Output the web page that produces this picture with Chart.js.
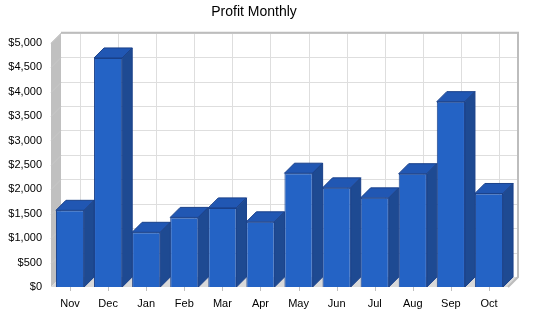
<!DOCTYPE html>
<html>
<head>
<meta charset="utf-8">
<script src="https://cdn.jsdelivr.net/npm/chart.js@4/dist/chart.umd.min.js"></script>
<style>
  html, body { margin: 0; padding: 0; background: #fff; }
  #wrap { width: 550px; height: 318px; }
</style>
</head>
<body>
<div id="wrap"><canvas id="profitChart"></canvas></div>
<script>
var months = ['Nov', 'Dec', 'Jan', 'Feb', 'Mar', 'Apr', 'May', 'Jun', 'Jul', 'Aug', 'Sep', 'Oct'];
var profit = [1570, 4690, 1120, 1425, 1620, 1335, 2330, 2030, 1825, 2320, 3795, 1915];
var yMax = 5000;
var yStep = 500;

// depth of the fake 3d box
var DX = 10, DY = 10;

var box3d = {
    id: 'box3d',
    beforeDatasetsDraw: function(chart) {
        var c = chart.ctx, a = chart.chartArea;
        var x = chart.scales.x, y = chart.scales.y;
        c.save();
        // left wall
        c.fillStyle = '#c0c0c0';
        c.beginPath();
        c.moveTo(a.left, a.top); c.lineTo(a.left + DX, a.top - DY);
        c.lineTo(a.left + DX, a.bottom - DY); c.lineTo(a.left, a.bottom);
        c.closePath(); c.fill();
        // floor
        c.fillStyle = '#d9d9d9';
        c.beginPath();
        c.moveTo(a.left, a.bottom); c.lineTo(a.left + DX, a.bottom - DY);
        c.lineTo(a.right + DX, a.bottom - DY); c.lineTo(a.right, a.bottom);
        c.closePath(); c.fill();
        // back wall grid
        c.lineWidth = 1;
        y.ticks.forEach(function(t) {
            var py = Math.round(y.getPixelForValue(t.value)) + 0.5;
            if (t.value === 0) return;
            c.strokeStyle = '#dedede';
            c.beginPath();
            c.moveTo(a.left + DX, py - DY); c.lineTo(a.right + DX, py - DY);
            c.stroke();
            c.strokeStyle = '#c8c8c8';
            c.beginPath();
            c.moveTo(a.left, py); c.lineTo(a.left + DX, py - DY);
            c.stroke();
        });
        months.forEach(function(m, i) {
            var px = Math.round(x.getPixelForValue(i)) + 0.5;
            c.strokeStyle = '#dedede';
            c.beginPath();
            c.moveTo(px + DX, a.top - DY); c.lineTo(px + DX, a.bottom - DY);
            c.stroke();
            // tick under axis
            c.strokeStyle = '#c0c0c0';
            c.beginPath();
            c.moveTo(px, a.bottom); c.lineTo(px, a.bottom + 4);
            c.stroke();
        });
        // back wall border
        c.strokeStyle = '#bdbdbd';
        c.lineWidth = 2;
        c.beginPath();
        c.moveTo(a.left + DX, a.top - DY); c.lineTo(a.right + DX, a.top - DY);
        c.lineTo(a.right + DX, a.bottom - DY); c.lineTo(a.right, a.bottom);
        c.stroke();
        c.restore();
    },
    afterDatasetsDraw: function(chart) {
        var c = chart.ctx;
        var meta = chart.getDatasetMeta(0);
        c.save();
        c.lineWidth = 1;
        c.strokeStyle = '#1a418a';
        meta.data.forEach(function(bar) {
            var p = bar.getProps(['x', 'y', 'base', 'width'], true);
            var l = p.x - p.width / 2, r = p.x + p.width / 2;
            var t = p.y, b = p.base;
            // top face
            c.fillStyle = '#2157b3';
            c.beginPath();
            c.moveTo(l, t); c.lineTo(l + DX, t - DY);
            c.lineTo(r + DX, t - DY); c.lineTo(r, t);
            c.closePath(); c.fill(); c.stroke();
            // side face
            c.fillStyle = '#1e4a92';
            c.beginPath();
            c.moveTo(r, t); c.lineTo(r + DX, t - DY);
            c.lineTo(r + DX, b - DY); c.lineTo(r, b);
            c.closePath(); c.fill(); c.stroke();
        });
        c.restore();
    }
};

var ctx = document.getElementById('profitChart').getContext('2d');
var profitChart = new Chart(ctx, {
    type: 'bar',
    data: {
        labels: months,
        datasets: [{
            label: 'Profit',
            data: profit,
            backgroundColor: '#2463c5',
            borderColor: '#1a418a',
            borderWidth: 1,
            barPercentage: 0.74,
            categoryPercentage: 1
        }]
    },
    options: {
        responsive: true,
        maintainAspectRatio: false,
        animation: false,
        layout: { padding: { top: 0, right: 42, left: 0, bottom: 0 } },
        scales: {
            x: {
                grid: { display: false, drawTicks: false },
                border: { display: false },
                ticks: { color: '#000', font: { family: 'Liberation Sans, Arial, sans-serif', size: 11 }, padding: 10, maxRotation: 0 },
                afterFit: function(s) { s.height = 31; }
            },
            y: {
                min: 0,
                max: yMax,
                grid: { display: false, drawTicks: false },
                border: { display: false },
                ticks: {
                    stepSize: yStep,
                    color: '#000',
                    padding: 9,
                    font: { family: 'Liberation Sans, Arial, sans-serif', size: 11 },
                    callback: function(v) { return '$' + v.toLocaleString('en-US'); }
                },
                afterFit: function(s) { s.width = 51; }
            }
        },
        plugins: {
            legend: { display: false },
            tooltip: { enabled: false },
            title: {
                display: true,
                text: 'Profit Monthly',
                color: '#000',
                font: { family: 'Liberation Sans, Arial, sans-serif', size: 14, weight: 'normal' },
                padding: { top: 4, bottom: 22 }
            }
        }
    },
    plugins: [box3d]
});
</script>
</body>
</html>
